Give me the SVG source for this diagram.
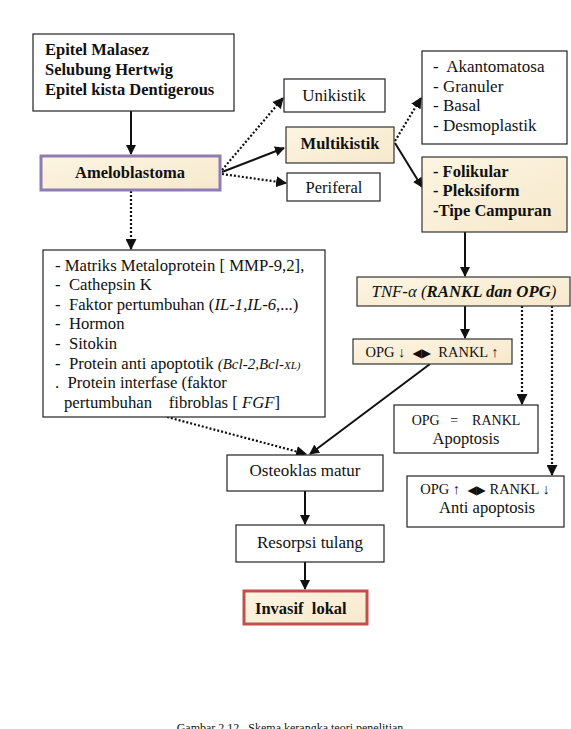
<svg xmlns="http://www.w3.org/2000/svg" width="571" height="729" viewBox="0 0 571 729">
<style>
  text { font-family: "Liberation Serif", "Times New Roman", serif; fill: #111; white-space: pre; }
  .box { fill: #fff; stroke: #222; stroke-width: 1.2; }
  .cream { fill: url(#cg); stroke: #333; stroke-width: 1.2; }
  .b16 { font-size: 16.5px; font-weight: bold; }
  .r15 { font-size: 16.7px; }
  .r16 { font-size: 17px; }
  .r13 { font-size: 14.5px; }
  .solid { stroke: #111; stroke-width: 2; fill: none; marker-end: url(#ah); }
  .dot { stroke: #111; stroke-width: 2.2; stroke-dasharray: 2 2; fill: none; marker-end: url(#ah); }
  .sym { font-family: "DejaVu Sans", sans-serif; font-size: 12px; }
</style>
<defs>
  <linearGradient id="cg" x1="0" y1="0" x2="1" y2="1">
    <stop offset="0" stop-color="#FDF5E2"/>
    <stop offset="1" stop-color="#F6E8CC"/>
  </linearGradient>
  <marker id="ah" viewBox="0 0 10 10" refX="9" refY="5" markerWidth="5" markerHeight="5" orient="auto" markerUnits="strokeWidth">
    <path d="M0,0 L10,5 L0,10 z" fill="#111"/>
  </marker>
</defs>
<rect width="571" height="729" fill="#fff"/>

<g id="connectors">
  <line class="solid" x1="131" y1="111" x2="131" y2="154"/>
  <line class="dot" x1="222" y1="170" x2="283" y2="98"/>
  <line class="solid" x1="222" y1="172" x2="284" y2="148"/>
  <line class="dot" x1="222" y1="174" x2="286" y2="183"/>
  <line class="dot" x1="395" y1="141" x2="421" y2="98"/>
  <line class="solid" x1="395" y1="143" x2="422" y2="187"/>
  <line class="solid" x1="465" y1="232" x2="465" y2="276"/>
  <line class="solid" x1="465" y1="306" x2="465" y2="338"/>
  <line class="dot" x1="522" y1="306" x2="522" y2="404"/>
  <line class="dot" x1="552" y1="306" x2="552" y2="475"/>
  <line class="dot" x1="131" y1="191" x2="131" y2="249"/>
  <line class="dot" x1="167" y1="417" x2="306" y2="454"/>
  <line class="solid" x1="430" y1="364" x2="310" y2="454"/>
  <line class="solid" x1="305" y1="491" x2="305" y2="524"/>
  <line class="solid" x1="305" y1="562" x2="305" y2="589"/>
</g>

<g id="epitel">
  <rect class="box" x="33" y="34" width="201" height="77"/>
  <text class="b16" x="45" y="55">Epitel Malasez</text>
  <text class="b16" x="45" y="75">Selubung Hertwig</text>
  <text class="b16" x="45" y="95">Epitel kista Dentigerous</text>
</g>

<g id="ameloblastoma">
  <rect x="41" y="156" width="179" height="34" fill="url(#cg)" stroke="#8E7DB5" stroke-width="3"/>
  <text class="b16" x="130" y="178" text-anchor="middle">Ameloblastoma</text>
</g>

<g id="unikistik">
  <rect class="box" x="284" y="79" width="101" height="33"/>
  <text class="r16" x="334" y="101" text-anchor="middle">Unikistik</text>
</g>

<g id="multikistik">
  <rect class="cream" x="286" y="127" width="108" height="36"/>
  <text class="b16" x="340" y="149" text-anchor="middle">Multikistik</text>
</g>

<g id="periferal">
  <rect class="box" x="287" y="173" width="93" height="28"/>
  <text x="334" y="193" font-size="16.5" text-anchor="middle">Periferal</text>
</g>

<g id="subtipe">
  <rect class="box" x="422" y="51" width="145" height="93"/>
  <text class="r16" x="433" y="72">-  Akantomatosa</text>
  <text class="r16" x="433" y="92">- Granuler</text>
  <text class="r16" x="433" y="111">- Basal</text>
  <text class="r16" x="433" y="131">- Desmoplastik</text>
</g>

<g id="folikular">
  <rect class="cream" x="422" y="157" width="145" height="75"/>
  <text class="b16" x="433" y="177">- Folikular</text>
  <text class="b16" x="433" y="196">- Pleksiform</text>
  <text class="b16" x="433" y="216">-Tipe Campuran</text>
</g>

<g id="tnf">
  <rect class="cream" x="357" y="277" width="213" height="29"/>
  <text x="464" y="297" text-anchor="middle" font-size="16.8" font-style="italic">TNF-α (<tspan font-weight="bold">RANKL dan OPG</tspan>)</text>
</g>

<g id="opg-down">
  <rect class="cream" x="353" y="339" width="159" height="25"/>
  <text class="r13" x="432" y="357" text-anchor="middle">OPG ↓  <tspan class="sym">◀▶</tspan>  RANKL ↑</text>
</g>

<g id="list">
  <rect class="box" x="43" y="250" width="282" height="167"/>
  <text class="r15" x="55" y="271">- Matriks Metaloprotein [ MMP-9,2],</text>
  <text class="r15" x="55" y="290">-  Cathepsin K</text>
  <text class="r15" x="55" y="310">-  Faktor pertumbuhan (<tspan font-style="italic">IL-1,IL-6</tspan>,...)</text>
  <text class="r15" x="55" y="329">-  Hormon</text>
  <text class="r15" x="55" y="349">-  Sitokin</text>
  <text class="r15" x="55" y="369">-  Protein anti apoptotik <tspan font-style="italic" font-size="15">(Bcl-2,Bcl-</tspan><tspan font-style="italic" font-size="11">XL)</tspan></text>
  <text class="r15" x="55" y="388">.  Protein interfase (faktor</text>
  <text class="r15" x="64" y="408">pertumbuhan    fibroblas [ <tspan font-style="italic">FGF</tspan>]</text>
</g>

<g id="apoptosis">
  <rect class="box" x="394" y="405" width="144" height="48"/>
  <text x="466" y="425" font-size="14" text-anchor="middle">OPG   =    RANKL</text>
  <text x="466" y="444" font-size="16.5" text-anchor="middle">Apoptosis</text>
</g>

<g id="anti-apoptosis">
  <rect class="box" x="407" y="476" width="157" height="51"/>
  <text class="r13" x="485" y="494" text-anchor="middle">OPG ↑  <tspan class="sym">◀▶</tspan> RANKL ↓</text>
  <text x="487" y="513" font-size="16.5" text-anchor="middle">Anti apoptosis</text>
</g>

<g id="osteoklas">
  <rect class="box" x="227" y="455" width="156" height="36"/>
  <text class="r16" x="305" y="476" text-anchor="middle">Osteoklas matur</text>
</g>

<g id="resorpsi">
  <rect class="box" x="236" y="525" width="148" height="37"/>
  <text class="r16" x="310" y="548" text-anchor="middle">Resorpsi tulang</text>
</g>

<g id="invasif">
  <rect x="244" y="591" width="123" height="33" fill="url(#cg)" stroke="#C0504D" stroke-width="3"/>
  <text class="b16" x="255" y="614">Invasif  lokal</text>
</g>

<text x="290" y="732" font-size="12" text-anchor="middle" fill="#333">Gambar 2.12   Skema kerangka teori penelitian</text>
</svg>
